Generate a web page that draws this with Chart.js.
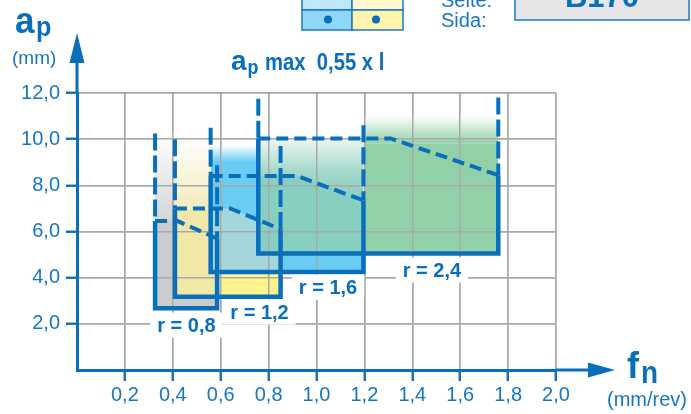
<!DOCTYPE html>
<html>
<head>
<meta charset="utf-8">
<script src="https://cdn.jsdelivr.net/npm/chart.js@4.4.1/dist/chart.umd.min.js"></script>
<style>
  html, body { margin: 0; padding: 0; background: #fff; }
  #chart { display: block; }
</style>
</head>
<body>
<canvas id="chart" width="691" height="414"></canvas>
<script>
// -------------------------------
//  DATA
// -------------------------------
const radiusLabels  = ['r = 0,8', 'r = 1,2', 'r = 1,6', 'r = 2,4'];
const feedLow       = [0.326, 0.409, 0.558, 0.757];   // fn min, mm/rev
const feedHigh      = [0.585, 0.850, 1.196, 1.759];   // fn max, mm/rev
const feedKnee      = [0.42, 0.64, 0.92, 1.31];       // ap max starts to drop here
const depthLow      = [2.67, 3.17, 4.25, 5.05];       // ap min, mm
const depthFlat     = [6.45, 7.00, 8.40, 10.03];      // ap max, flat part
const depthEnd      = [5.70, 6.10, 7.35, 8.44];       // ap max at fn max
const depthLeftExt  = [10.25, 10.00, 10.50, 11.75];   // dash-dot extension, left edge
const depthRightExt = [8.87, 9.70, 10.60, 11.80];     // dash-dot extension, right edge
const labelFeed     = [0.457, 0.762, 1.048, 1.482];
const labelDepth    = [1.965, 2.53, 3.61, 4.35];
const fadeTop       = [10.25, 10.00, 9.75, 10.03, 11.00];
const greenTop      = 9.8;

const X_MAX = 2.0, X_STEP = 0.2;
const Y_MAX = 12, Y_STEP = 2;

// -------------------------------
//  THEME
// -------------------------------
const BLUE = '#0a6fba';
const TEXT_BLUE = '#1577c1';
const GRID = '#a9a9a9';
const FONT = "'Liberation Sans', Arial, Helvetica, sans-serif";
const COL = {
    gray: '#cbccce',
    paleYellow: '#f1e8a8',
    yellow: '#fff38e',
    blue: '#68ccf3',
    paleTeal: '#a4d7db',
    teal: '#87cfc0',
    green: '#92d1a7'
};

Chart.defaults.font.family = FONT;

// vertical gradient between two y values
function vGradient(context, topVal, botVal, stops) {
    const chart = context.chart;
    if (!chart.chartArea) return stops[stops.length - 1][1];
    const y = chart.scales.y;
    const g = chart.ctx.createLinearGradient(0, y.getPixelForValue(topVal), 0, y.getPixelForValue(botVal));
    stops.forEach(s => g.addColorStop(s[0], s[1]));
    return g;
}

function fillLayer(points, base, color) {
    return {
        data: points,
        fill: { value: base },
        backgroundColor: color,
        borderColor: 'rgba(0,0,0,0)',
        borderWidth: 0,
        pointRadius: 0
    };
}

function fadeLayer(x0, x1, y0, y1, stops) {
    return fillLayer([{ x: x0, y: y1 }, { x: x1, y: y1 }], y0, c => vGradient(c, y1, y0, stops));
}

function topEdge(i, fromX) {
    return [
        { x: fromX !== undefined ? fromX : feedLow[i], y: depthFlat[i] },
        { x: feedKnee[i], y: depthFlat[i] },
        { x: feedHigh[i], y: depthEnd[i] }
    ];
}

function lineLayer(points, dash, width) {
    return {
        data: points,
        fill: false,
        borderColor: BLUE,
        borderWidth: width || 4,
        borderDash: dash || [],
        pointRadius: 0,
        tension: 0
    };
}

// -------------------------------
//  BUILD DATASETS
// -------------------------------
const fills = [
    fadeLayer(feedLow[0], feedLow[1], depthFlat[0], fadeTop[0], [[0, '#ffffff'], [1, '#d4d5d7']]),
    fadeLayer(feedLow[1], feedLow[2], depthFlat[1], fadeTop[1], [[0, '#ffffff'], [1, '#f3ebb8']]),
    fadeLayer(feedLow[2], feedLow[3], depthFlat[2], fadeTop[2], [[0, '#ffffff'], [0.55, COL.blue], [1, COL.blue]]),
    fadeLayer(feedLow[3], feedHigh[2], depthEnd[2], fadeTop[3], [[0, '#eef6f2'], [0.55, '#a2d8c9'], [1, COL.teal]]),
    fadeLayer(feedHigh[2], feedHigh[3], greenTop, fadeTop[4], [[0, '#ffffff'], [1, COL.green]]),
    fillLayer(topEdge(0), depthLow[0], COL.gray),
    fillLayer(topEdge(1), depthLow[1], COL.paleYellow),
    fillLayer([{ x: feedHigh[0], y: depthLow[2] }, { x: feedHigh[1], y: depthLow[2] }], depthLow[1], COL.yellow),
    fillLayer(topEdge(2), depthLow[2], COL.blue),
    fillLayer(topEdge(1, feedLow[2]), depthLow[2], COL.paleTeal),
    fillLayer(topEdge(2, feedLow[3]), depthLow[3], COL.teal),
    fillLayer([{ x: feedHigh[2], y: greenTop }, { x: feedHigh[3], y: greenTop }], depthLow[3], COL.green)
];

const lines = [];
radiusLabels.forEach((_, i) => {
    // solid box: left, bottom, right
    lines.push(lineLayer([
        { x: feedLow[i], y: depthFlat[i] },
        { x: feedLow[i], y: depthLow[i] },
        { x: feedHigh[i], y: depthLow[i] },
        { x: feedHigh[i], y: depthEnd[i] }
    ], [], 4.5));
    // ap max (dashed)
    lines.push(lineLayer(topEdge(i), [12, 6]));
    // dash-dot extensions
    lines.push(lineLayer([{ x: feedLow[i], y: depthLeftExt[i] }, { x: feedLow[i], y: depthFlat[i] }], [17, 5]));
    lines.push(lineLayer([{ x: feedHigh[i], y: depthRightExt[i] }, { x: feedHigh[i], y: depthEnd[i] }], [17, 5]));
});

const allSets = fills.concat(lines);
// draw in array order (higher order value is drawn first)
allSets.forEach((d, i) => { d.order = allSets.length - i; });
const lastFillIndex = fills.length - 1;

// -------------------------------
//  TEXT HELPERS
// -------------------------------
function txt(ctx, s, x, y, size, weight, opts) {
    opts = opts || {};
    ctx.save();
    ctx.font = `${weight} ${size}px ${FONT}`;
    ctx.fillStyle = opts.color || BLUE;
    ctx.textAlign = opts.align || 'left';
    ctx.textBaseline = 'alphabetic';
    ctx.translate(x, y);
    ctx.scale(opts.sx || 1, 1);
    ctx.fillText(s, 0, 0);
    ctx.restore();
}

// -------------------------------
//  PLUGIN: grid over fills, labels, arrows, headings
// -------------------------------
const overlayPlugin = {
    id: 'overlay',
    afterDatasetDraw(chart, args) {
        if (args.index === lastFillIndex) {
            chart.scales.x.drawGrid(chart.chartArea);
            chart.scales.y.drawGrid(chart.chartArea);
        }
    },
    afterDatasetsDraw(chart) {
        const ctx = chart.ctx;
        const { x, y } = chart.scales;
        ctx.save();
        ctx.font = `bold 20px ${FONT}`;
        radiusLabels.forEach((lab, i) => {
            const cx = x.getPixelForValue(labelFeed[i]);
            const cy = y.getPixelForValue(labelDepth[i]);
            const w = ctx.measureText(lab).width;
            ctx.fillStyle = '#ffffff';
            ctx.fillRect(cx - w / 2 - 7, cy - 12, w + 14, 25);
            txt(ctx, lab, cx, cy + 7.2, 20, 'bold', { align: 'center' });
        });
        ctx.restore();
    },
    afterDraw(chart) {
        const ctx = chart.ctx;
        const area = chart.chartArea;
        const x0 = chart.scales.x.getPixelForValue(0);
        const y0 = chart.scales.y.getPixelForValue(0);

        // axis arrows
        ctx.save();
        ctx.strokeStyle = BLUE;
        ctx.fillStyle = BLUE;
        ctx.lineWidth = 3;
        ctx.beginPath();
        ctx.moveTo(x0, area.top);
        ctx.lineTo(x0, 62);
        ctx.moveTo(area.right, y0);
        ctx.lineTo(589, y0);
        ctx.stroke();
        ctx.beginPath();
        ctx.moveTo(x0 - 7.5, 63);
        ctx.lineTo(x0 + 7.5, 63);
        ctx.lineTo(x0, 33);
        ctx.closePath();
        ctx.fill();
        ctx.beginPath();
        ctx.moveTo(588, y0 - 7.5);
        ctx.lineTo(588, y0 + 7.5);
        ctx.lineTo(615, y0);
        ctx.closePath();
        ctx.fill();
        ctx.restore();

        // axis titles
        txt(ctx, 'a', 15, 33, 37, 'bold', { sx: 0.95 });
        txt(ctx, 'p', 36, 36, 28, 'bold', { sx: 0.9 });
        txt(ctx, '(mm)', 12, 64, 19, 'normal', { color: TEXT_BLUE });
        txt(ctx, 'f', 627, 378, 36, 'bold');
        txt(ctx, 'n', 641, 383, 31, 'bold', { sx: 0.9 });
        txt(ctx, '(mm/rev)', 607, 406, 20, 'normal', { color: TEXT_BLUE });

        // chart heading
        txt(ctx, 'a', 231, 70, 28, 'bold');
        txt(ctx, 'p', 247.5, 74, 21, 'bold', { sx: 0.85 });
        txt(ctx, 'max  0,55 x l', 265, 70, 23, 'bold', { sx: 0.88 });

        // page header (cut at the top edge)
        ctx.save();
        ctx.strokeStyle = '#1a7ac4';
        ctx.lineWidth = 1.5;
        const cells = [
            [302, -12, 50, 22, '#bfe7fa'], [352, -12, 51, 22, '#fff8cf'],
            [302, 10, 50, 20, '#90d7f6'], [352, 10, 51, 20, '#fff4ad']
        ];
        cells.forEach(c => {
            ctx.fillStyle = c[4];
            ctx.fillRect(c[0], c[1], c[2], c[3]);
            ctx.strokeRect(c[0], c[1], c[2], c[3]);
        });
        ctx.fillStyle = BLUE;
        [328, 376].forEach(cx => {
            ctx.beginPath();
            ctx.arc(cx, 19.5, 4, 0, Math.PI * 2);
            ctx.fill();
        });
        ctx.fillStyle = '#e6e6e8';
        ctx.fillRect(515, -12, 174, 32);
        ctx.strokeRect(515, -12, 174, 32);
        ctx.restore();
        txt(ctx, 'Seite:', 441, 7, 20, 'normal', { color: TEXT_BLUE });
        txt(ctx, 'Sida:', 441, 26.5, 20, 'normal', { color: TEXT_BLUE });
        txt(ctx, 'B170', 602, 6.5, 31, 'bold', { align: 'center' });
    }
};

// -------------------------------
//  CHART
// -------------------------------
const fmt = v => (v === 0 ? '' : Number(v).toFixed(1).replace('.', ','));
const gridColor = c => (c.tick && c.tick.value === 0 ? 'rgba(0,0,0,0)' : GRID);
const tickColor = c => (c.tick && c.tick.value === 0 ? 'rgba(0,0,0,0)' : BLUE);

new Chart(document.getElementById('chart'), {
    type: 'line',
    data: { datasets: allSets },
    plugins: [overlayPlugin],
    options: {
        responsive: false,
        animation: false,
        devicePixelRatio: 1,
        layout: { padding: { top: 93, right: 135, left: 0, bottom: 0 } },
        plugins: {
            legend: { display: false },
            tooltip: { enabled: false }
        },
        events: [],
        scales: {
            x: {
                type: 'linear',
                min: 0,
                max: X_MAX,
                afterFit: s => { s.height = 44; },
                grid: { color: gridColor, lineWidth: 1.5, tickColor: tickColor, tickLength: 11, tickWidth: 2 },
                border: { color: BLUE, width: 3 },
                ticks: { stepSize: X_STEP, color: TEXT_BLUE, font: { size: 20 }, padding: 2, maxRotation: 0, autoSkip: false, callback: fmt }
            },
            y: {
                type: 'linear',
                min: 0,
                max: Y_MAX,
                afterFit: s => { s.width = 77; },
                grid: { color: gridColor, lineWidth: 1.5, tickColor: tickColor, tickLength: 11, tickWidth: 2 },
                border: { color: BLUE, width: 3 },
                ticks: { stepSize: Y_STEP, color: TEXT_BLUE, font: { size: 20 }, padding: 6, callback: fmt }
            }
        }
    }
});
</script>
</body>
</html>
